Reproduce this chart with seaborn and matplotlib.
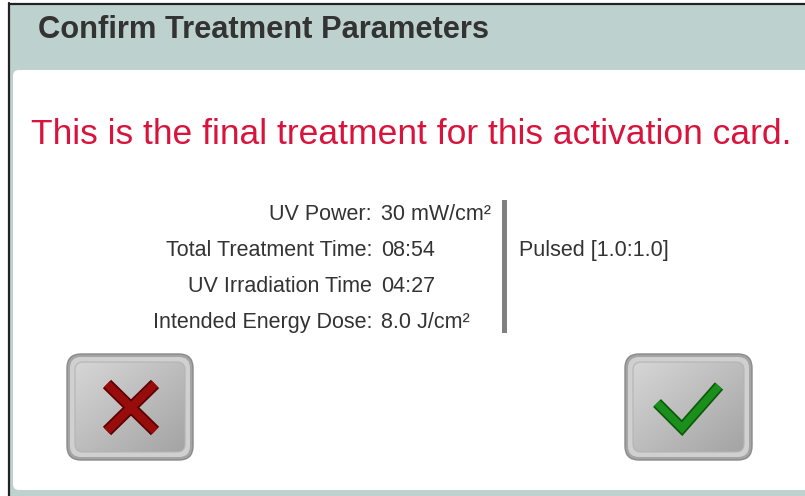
import numpy as np
import matplotlib
matplotlib.use("Agg")
import matplotlib.pyplot as plt
import seaborn as sns
from matplotlib.patches import FancyBboxPatch, Rectangle

# ---- content ----
title = "Confirm Treatment Parameters"
warning = "This is the final treatment for this activation card."
param_labels = ["UV Power:", "Total Treatment Time:", "UV Irradiation Time", "Intended Energy Dose:"]
param_values = ["30 mW/cm\u00b2", "08:54", "04:27", "8.0 J/cm\u00b2"]
mode_text = "Pulsed [1.0:1.0]"

sns.set_theme(style="white")
plt.rcParams['font.family'] = ['Liberation Sans', 'DejaVu Sans']

W, H = 805, 496
fig = plt.figure(figsize=(W / 100, H / 100), dpi=100)
ax = fig.add_axes([0, 0, 1, 1])
ax.set_xlim(0, W)
ax.set_ylim(H, 0)
ax.axis("off")

teal = "#bdd2cf"
# outer frame
ax.add_patch(Rectangle((9, 4), W - 9, H - 4, facecolor=teal, edgecolor="none", zorder=0))
ax.plot([9, 9], [3, H], color="#222222", lw=1.6, zorder=1)
ax.plot([9, W], [3.5, 3.5], color="#222222", lw=1.6, zorder=1)
# white panel
ax.add_patch(FancyBboxPatch((13, 70), W + 20, 420, boxstyle="round,pad=0,rounding_size=6",
                            facecolor="white", edgecolor="none", zorder=1))

ax.text(38, 38.5, title, fontsize=22.2, fontweight="bold", color="#333333",
        ha="left", va="baseline", zorder=3)
ax.text(411, 143.5, warning, fontsize=25.5, color="#d8143c", ha="center", va="baseline", zorder=3)

row_y = [220, 256, 292, 328]
for yy, lab, val in zip(row_y, param_labels, param_values):
    ax.text(372, yy, lab, fontsize=15.5, color="#333333", ha="right", va="baseline", zorder=3)
    ax.text(381, yy, val, fontsize=15.5, color="#333333", ha="left", va="baseline", zorder=3)

ax.add_patch(Rectangle((501.5, 200), 5, 133, facecolor="#808080", edgecolor="none", zorder=3))
ax.text(519, 256, mode_text, fontsize=15.5, color="#333333", ha="left", va="baseline", zorder=3)

# buttons
grad = np.linspace(0, 1, 200)
gx, gy = np.meshgrid(grad, grad)
g = 0.84 - 0.2 * (0.5 * gx + 0.5 * gy)
gimg = np.dstack([g, g, g])

def button(x0, y0, w, h):
    outer = FancyBboxPatch((x0, y0), w, h, boxstyle="round,pad=0,rounding_size=14",
                           facecolor="#a4a4a4", edgecolor="#8a8a8a", lw=1, zorder=4)
    ax.add_patch(outer)
    rim = FancyBboxPatch((x0 + 3, y0 + 3), w - 6, h - 6, boxstyle="round,pad=0,rounding_size=11",
                         facecolor="#d0d0d0", edgecolor="none", zorder=5)
    ax.add_patch(rim)
    inner = FancyBboxPatch((x0 + 8, y0 + 8), w - 16, h - 16, boxstyle="round,pad=0,rounding_size=8",
                           facecolor="none", edgecolor="#b4b4b4", lw=0.8, zorder=7)
    ax.add_patch(inner)
    im = ax.imshow(gimg, extent=(x0 + 8, x0 + w - 8, y0 + h - 8, y0 + 8), zorder=6,
                   interpolation="bilinear", aspect="auto")
    im.set_clip_path(inner)

button(67, 354, 126, 106)
button(625, 354, 127, 106)
ax.set_xlim(0, W)
ax.set_ylim(H, 0)

# X mark
for (xa, ya, xb, yb) in [(107, 384, 155, 431), (155, 384, 107, 431)]:
    ax.plot([xa, xb], [ya, yb], color="#5a0000", lw=8.5, solid_capstyle="butt", zorder=8)
    ax.plot([xa, xb], [ya, yb], color="#980c0c", lw=6, solid_capstyle="butt", zorder=9)

# check mark
cx = [657, 682, 719]
cy = [403, 428, 386]
ax.plot(cx, cy, color="#0a5a0a", lw=8, solid_capstyle="butt", solid_joinstyle="miter", zorder=8)
ax.plot(cx, cy, color="#1b8f1b", lw=5.5, solid_capstyle="butt", solid_joinstyle="miter", zorder=9)

fig.savefig("out.png", dpi=100, facecolor="white")
